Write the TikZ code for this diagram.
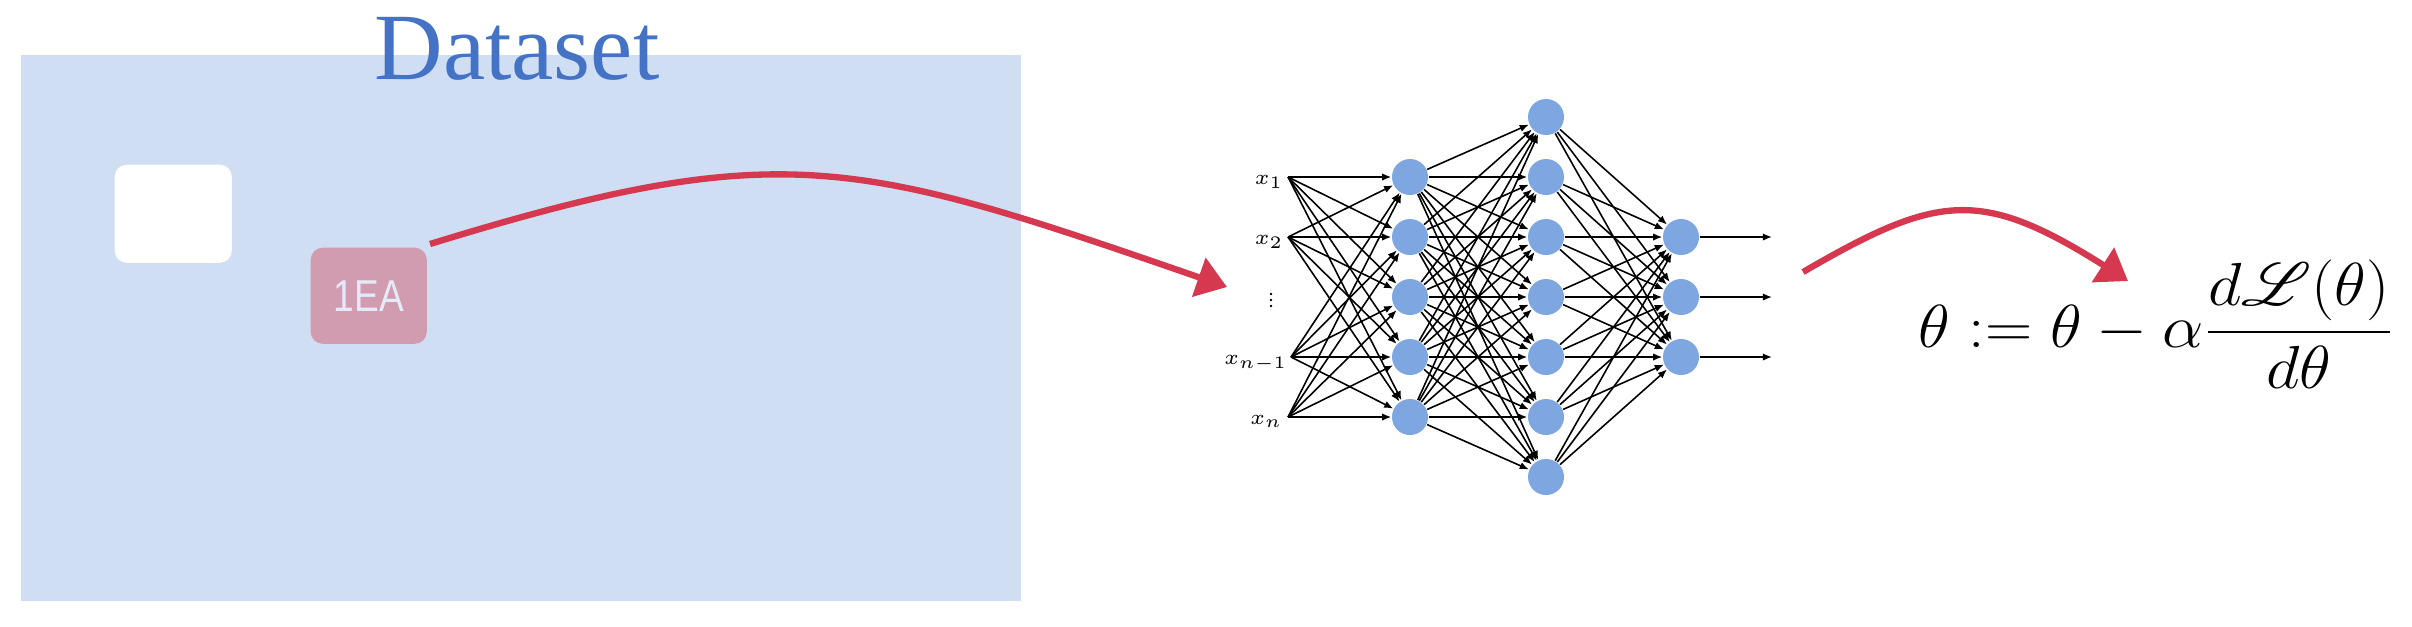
\documentclass[tikz,border=0pt]{standalone}
\usepackage{fontspec}
\usepackage{mathrsfs}
\newfontfamily\serifds{Liberation Serif}
\newfontfamily\sansds{Liberation Sans}
\usetikzlibrary{arrows.meta,bending}
\definecolor{dsblue}{RGB}{207,222,243}
\definecolor{dstitle}{RGB}{68,114,196}
\definecolor{pinkbox}{RGB}{209,155,176}
\definecolor{pinktext}{RGB}{230,234,248}
\definecolor{neuron}{RGB}{126,166,224}
\definecolor{pencil}{RGB}{214,56,80}
\begin{document}
\begin{tikzpicture}[x=0.01cm,y=-0.01cm,
  neuronnode/.style={circle,fill=neuron,minimum size=0.36cm,inner sep=0pt},
  synapse/.style={-{Latex[length=2.6pt,width=2.1pt]},line width=0.45pt,black},
  redarrow/.style={draw=pencil,line width=1.8pt,-{Triangle[length=8.5pt,width=11.4pt,fill=pencil]}},
  inlabel/.style={font=\fontsize{6.5}{7}\selectfont,anchor=base east,inner sep=0pt},
  card/.style={rectangle,rounded corners=0.12cm,inner sep=0pt,anchor=north west}]
\useasboundingbox (0,0) rectangle (2412,626);

% dataset panel
\node[rectangle,fill=dsblue,minimum width=10cm,minimum height=5.46cm,inner sep=0pt,anchor=north west] (dataset) at (20,54) {};
\node[font=\serifds\fontsize{27}{30}\selectfont,text=dstitle,anchor=base,inner sep=0pt] (title) at (517,79) {Dataset};
\node[card,fill=white,minimum width=1.17cm,minimum height=0.98cm] (blank) at (114,164) {};
\node[card,fill=pinkbox,minimum width=1.16cm,minimum height=0.96cm] (sample) at (310,247) {};
\node[font=\sansds\fontsize{12.7}{14}\selectfont,text=pinktext,inner sep=0pt] (sampletext) at (sample.center) {\scalebox{0.83}[1]{1EA}};

% network
\foreach \i in {1,...,5} \node[neuronnode] (h\i) at (1410,{117+60*\i}) {};
\foreach \j in {1,...,7} \node[neuronnode] (g\j) at (1546,{57+60*\j}) {};
\foreach \k in {1,2,3} \node[neuronnode] (o\k) at (1681,{177+60*\k}) {};

\node[inlabel] (lx1) at (1284,184) {$x_1$};
\node[inlabel] (lx2) at (1284,244) {$x_2$};
\node[inlabel] (lx3) at (1288,364) {$x_{n-1}$};
\node[inlabel] (lx4) at (1283,424) {$x_n$};
\fill (1271,294) circle (1.4) (1271,300) circle (1.4) (1271,306) circle (1.4);

\coordinate (in1) at (1288,177);
\coordinate (in2) at (1288,237);
\coordinate (in3) at (1291,357);
\coordinate (in4) at (1288,417);

\foreach \s in {in1,in2,in3,in4}
  \foreach \i in {1,...,5}
    \draw[synapse] (\s) -- (h\i);
\foreach \i in {1,...,5}
  \foreach \j in {1,...,7}
    \draw[synapse] (h\i) -- (g\j);
\foreach \j in {1,...,7}
  \foreach \k in {1,2,3}
    \draw[synapse] (g\j) -- (o\k);
\foreach \k in {1,2,3} {
  \coordinate (out\k) at (1772,{177+60*\k});
  \draw[synapse] (o\k) -- (out\k);
}

% update rule
\node[anchor=base west,inner sep=0pt,font=\fontsize{18.5}{22}\selectfont] (update) at (1918,347)
  {\scalebox{1.08}[1]{$\displaystyle \theta := \theta - \alpha\frac{d\mathscr{L}(\theta)}{d\theta}$}};

% red arrows
\coordinate (r1s) at (430,244);
\coordinate (r1e) at (1227,287);
\draw[redarrow] (r1s) .. controls (790,133) and (860,160) .. (r1e);
\coordinate (r2s) at (1803,272);
\coordinate (r2e) at (2128,281);
\draw[redarrow] (r2s) .. controls (1946,189) and (1985,187) .. (r2e);
\end{tikzpicture}
\end{document}
